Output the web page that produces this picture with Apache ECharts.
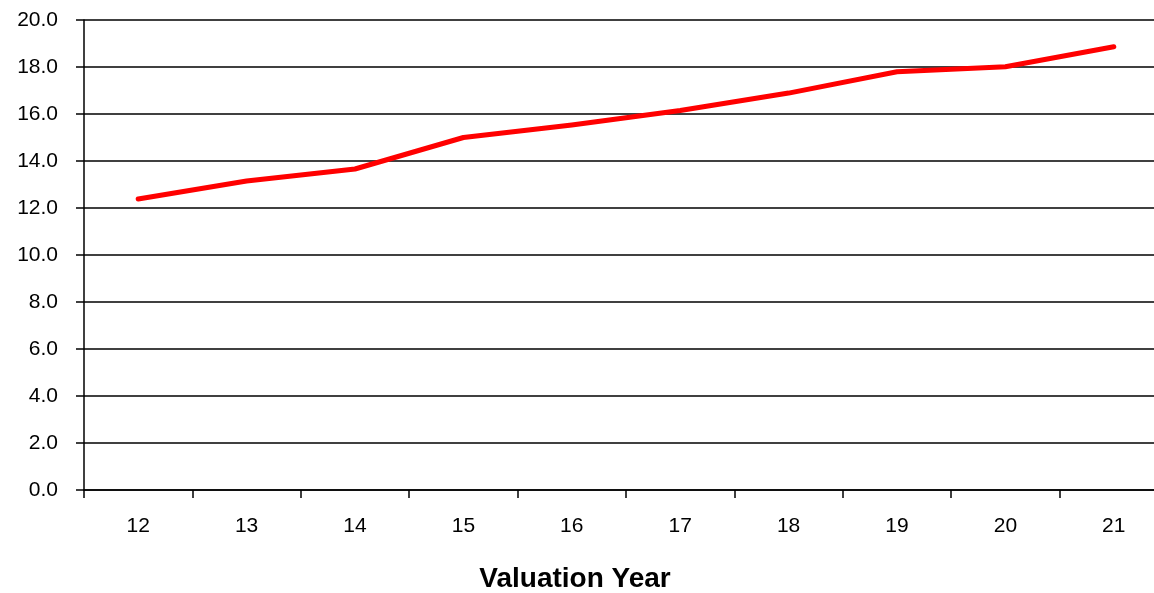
<!DOCTYPE html>
<html>
<head>
<meta charset="utf-8">
<script src="https://cdn.jsdelivr.net/npm/echarts@6/dist/echarts.min.js"></script>
<style>html,body{margin:0;padding:0;background:#fff;overflow:hidden;width:1154px;height:593px;}#c{width:1170px;height:593px;}</style>
</head>
<body>
<div id="c"></div>
<script>
var categories = ['12','13','14','15','16','17','18','19','20','21'];
var values = [12.38, 13.15, 13.66, 15.0, 15.53, 16.15, 16.89, 17.8, 18.01, 18.86];
var xTitle = 'Valuation Year';

var chart = echarts.init(document.getElementById('c'));
var font = 'Liberation Sans';
chart.setOption({
  animation: false,
  title: {
    text: xTitle, left: 570, top: 560, textAlign: 'center',
    textStyle: { fontFamily: font, fontSize: 28, fontWeight: 'bold', color: '#000' }
  },
  grid: { left: 84, right: 2, top: 20, bottom: 103, containLabel: false },
  xAxis: {
    type: 'category', data: categories, boundaryGap: true,
    axisLine: { lineStyle: { color: '#000', width: 1.5 } },
    axisTick: { show: true, length: 8, lineStyle: { color: '#000', width: 1.5 } },
    axisLabel: { fontFamily: font, fontSize: 21, color: '#000', margin: 26 }
  },
  yAxis: {
    type: 'value', min: 0, max: 20, interval: 2,
    axisLine: { show: true, lineStyle: { color: '#000', width: 1.5 } },
    axisTick: { show: true, length: 8, lineStyle: { color: '#000', width: 1.5 } },
    axisLabel: { fontFamily: font, fontSize: 21, color: '#000', margin: 26,
      formatter: function (v) { return v.toFixed(1); } },
    splitLine: { lineStyle: { color: '#000', width: 1.5 } }
  },
  series: [{
    type: 'line', data: values, showSymbol: false, symbol: 'none',
    lineStyle: { color: '#ff0000', width: 5, cap: 'round', join: 'round' }
  }]
});
</script>
</body>
</html>
